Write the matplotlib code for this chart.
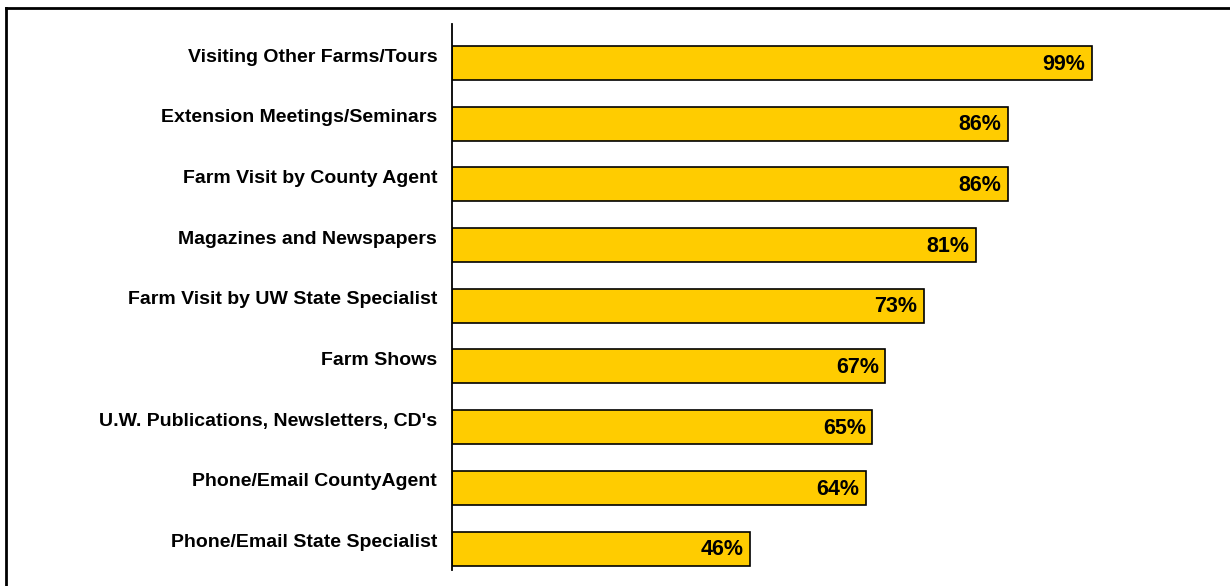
import matplotlib
matplotlib.use('Agg')
import matplotlib.pyplot as plt
from matplotlib.lines import Line2D
from matplotlib.transforms import ScaledTranslation

categories = ['Visiting Other Farms/Tours', 'Extension Meetings/Seminars',
              'Farm Visit by County Agent', 'Magazines and Newspapers',
              'Farm Visit by UW State Specialist', 'Farm Shows',
              "U.W. Publications, Newsletters, CD's",
              'Phone/Email CountyAgent', 'Phone/Email State Specialist']
values = [99, 86, 86, 81, 73, 67, 65, 64, 46]

plt.rcParams['font.family'] = ['Liberation Sans', 'DejaVu Sans']

fig = plt.figure(figsize=(12.3, 5.86), dpi=100)
ax = fig.add_axes([452.5 / 1230, 16 / 586, 710.6 / 1230, 546 / 586])

pos = list(range(len(categories)))
ax.barh(pos, values, height=0.56, color='#FFCC00', edgecolor='black', linewidth=1.2)
for p, v in zip(pos, values):
    ax.text(v - 1.0, p + 0.02, f'{v}%', ha='right', va='center',
            fontsize=15.5, fontweight='bold', color='black')

ax.set_xlim(0, 110)
ax.set_ylim(len(categories) - 1 + 0.354, -0.643)
ax.set_yticks(pos)
ax.set_yticklabels(categories, fontsize=14, fontweight='bold')
ax.tick_params(axis='y', length=0, pad=11)
# labels sit a bit above the bar centres in the original
shift = ScaledTranslation(0, 8 / 100, fig.dpi_scale_trans)
for lbl in ax.get_yticklabels():
    lbl.set_transform(lbl.get_transform() + shift)
ax.set_xticks([])
for s in ['top', 'right', 'bottom']:
    ax.spines[s].set_visible(False)
ax.spines['left'].set_linewidth(1.3)

# outer frame (top and left only)
fig.add_artist(Line2D([6 / 1230, 6 / 1230], [0, 1 - 8 / 586], transform=fig.transFigure,
                      color='black', linewidth=2))
fig.add_artist(Line2D([6 / 1230, 1], [1 - 8 / 586, 1 - 8 / 586], transform=fig.transFigure,
                      color='black', linewidth=2))

fig.savefig('out.png', dpi=100)
